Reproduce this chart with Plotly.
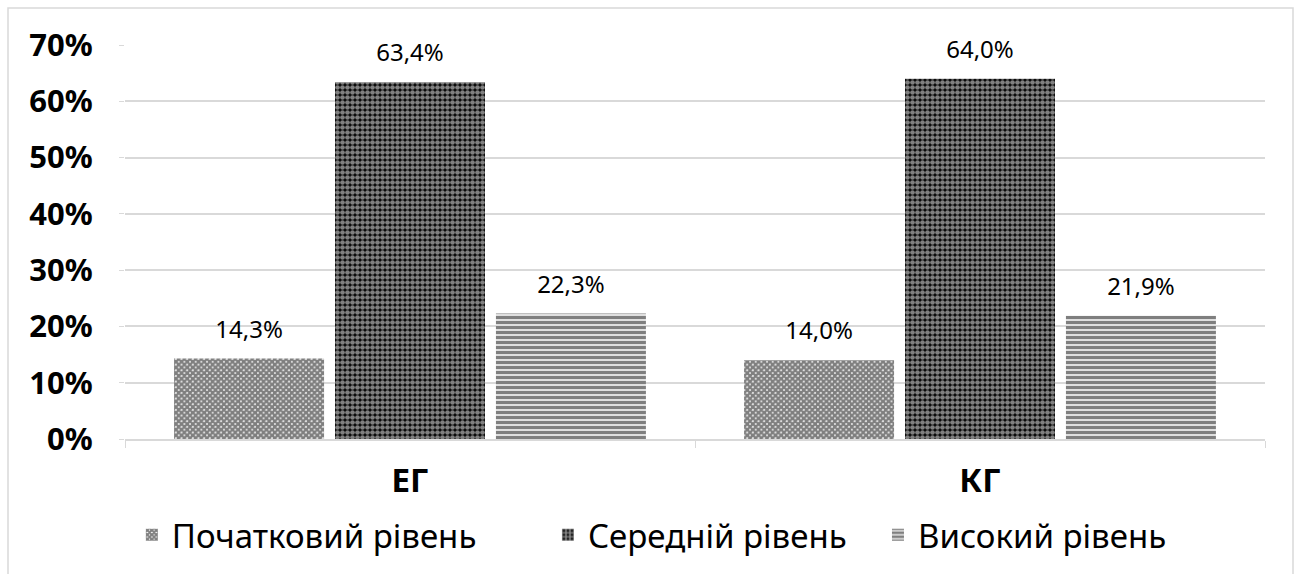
import plotly.graph_objects as go

categories = ["ЕГ", "КГ"]
series_names = ["Початковий рівень", "Середній рівень", "Високий рівень"]
initial = [0.143, 0.140]
middle = [0.634, 0.640]
high = [0.223, 0.219]
y_ticks = [0, 0.1, 0.2, 0.3, 0.4, 0.5, 0.6, 0.7]
y_tick_labels = ["0%", "10%", "20%", "30%", "40%", "50%", "60%", "70%"]

FONT = "Noto Sans"

def fmt(v):
    return f"{v*100:.1f}%".replace(".", ",")

patterns = [
    dict(color="black", pattern=dict(shape="x", fgcolor="black", bgcolor="white", size=4, solidity=0.85)),
    dict(color="black", pattern=dict(shape=".", fgcolor="white", bgcolor="black", size=5, solidity=0.7)),
    dict(color="black", pattern=dict(shape="-", fgcolor="black", bgcolor="white", size=5, solidity=0.7)),
]
legend_ids = ["legend", "legend2", "legend3"]
legend_x = [0.006, 0.371, 0.6605]
groups = ["g1", "g2", "g3"]

fig = go.Figure()
for name, vals, mk, lid, g in zip(series_names, [initial, middle, high], patterns, legend_ids, groups):
    fig.add_trace(go.Bar(
        x=categories, y=vals, name=name, legend=lid, offsetgroup=g,
        marker=dict(line=dict(width=0), **mk),
    ))
for name, vals, g in zip(series_names, [initial, middle, high], groups):
    fig.add_trace(go.Scatter(
        x=categories, y=vals, mode="markers+text", offsetgroup=g,
        text=[fmt(v) for v in vals], textposition="top center",
        textfont=dict(family=FONT, size=24, color="#000000"),
        marker=dict(size=22, opacity=0), showlegend=False, hoverinfo="skip",
        cliponaxis=False,
    ))

leg_common = dict(orientation="h", xanchor="left", y=-0.24, yanchor="middle",
                  font=dict(family=FONT, size=33, color="#000000"),
                  bgcolor="rgba(0,0,0,0)")
fig.update_layout(
    width=1300, height=574,
    paper_bgcolor="white", plot_bgcolor="white",
    margin=dict(l=125, r=35, t=45, b=134),
    barmode="group", bargap=0.153, bargroupgap=0.068,
    scattermode="group", scattergap=0.153,
    font=dict(family=FONT, color="#000000"),
    showlegend=True,
    legend=dict(x=legend_x[0], **leg_common),
    legend2=dict(x=legend_x[1], **leg_common),
    legend3=dict(x=legend_x[2], **leg_common),
)
fig.update_yaxes(range=[0, 0.7], tickvals=y_ticks, ticktext=y_tick_labels,
                 tickfont=dict(family=FONT, size=31, color="#000000", weight="bold"),
                 showgrid=True, gridcolor="#d9d9d9", gridwidth=1.5,
                 zeroline=False, showline=False, ticks="outside", ticklen=5,
                 tickcolor="#d9d9d9", ticklabelstandoff=20)
fig.update_xaxes(tickfont=dict(family=FONT, size=33, color="#000000", weight="bold"),
                 showline=True, linecolor="#d9d9d9", linewidth=1.5,
                 ticks="outside", tickson="boundaries", ticklen=7, tickcolor="#d9d9d9",
                 ticklabelstandoff=12)

fig.add_shape(type="rect", xref="paper", yref="paper",
              x0=-117/1140, x1=(1293-125)/1140, y0=(440-580)/395, y1=(440-8)/395,
              line=dict(color="#d9d9d9", width=1.5), fillcolor="rgba(0,0,0,0)", layer="below")

fig.write_html("out.html", post_script="document.body.style.margin='0px';",
               config={"displayModeBar": False})
